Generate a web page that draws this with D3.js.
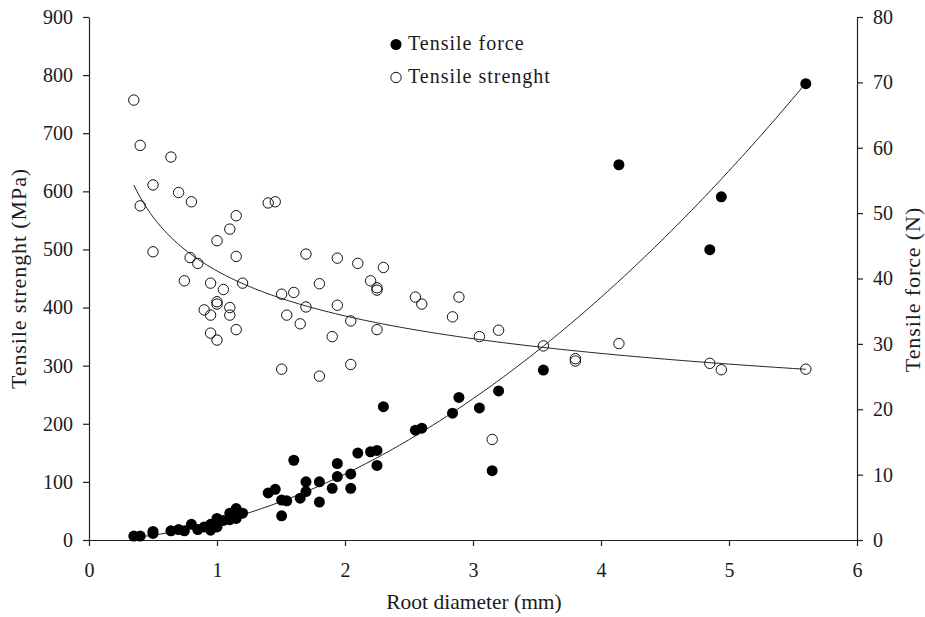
<!DOCTYPE html>
<html>
<head>
<meta charset="utf-8">
<script src="https://cdn.jsdelivr.net/npm/d3@7"></script>
<style>
  html, body { margin: 0; padding: 0; background: #fff; }
  svg { display: block; }
  text { font-family: "Liberation Serif", "DejaVu Serif", serif; fill: #1a1a1a; }
</style>
</head>
<body>
<svg id="chart" width="925" height="617"></svg>
<script>
// Root diameter (mm) and tensile strength (MPa), open markers
const strengthDiameter = [0.35,0.40,0.40,0.50,0.50,0.64,0.70,0.745,0.79,0.80,0.85,0.90,0.95,0.95,0.95,1.0,1.0,1.0,1.0,1.05,1.10,1.10,1.10,1.15,1.15,1.15,1.20,1.40,1.455,1.505,1.505,1.545,1.60,1.65,1.695,1.695,1.80,1.80,1.90,1.94,1.94,2.045,2.045,2.10,2.20,2.25,2.25,2.25,2.30,2.55,2.60,2.84,2.89,3.05,3.15,3.20,3.55,3.80,3.80,4.14,4.85,4.94,5.60];
const strengthValues   = [757,679,575,611,496,659,598,446,486,582,476,396,442,387,356,515,410,406,344,431,535,400,387,558,488,362,442,580,582,423,294,387,426,372,492,401,441,282,350,485,404,377,302,476,446,434,430,362,469,418,406,384,418,350,173,361,334,312,308,338,304,293,294];

// Root diameter (mm) and tensile force (N), filled markers
const forceDiameter = [0.35,0.40,0.50,0.50,0.64,0.70,0.745,0.80,0.85,0.90,0.95,0.95,1.0,1.0,1.0,1.05,1.10,1.10,1.15,1.15,1.15,1.20,1.40,1.455,1.505,1.505,1.545,1.60,1.65,1.695,1.695,1.80,1.80,1.90,1.94,1.94,2.045,2.045,2.10,2.20,2.25,2.25,2.30,2.55,2.60,2.84,2.89,3.05,3.15,3.20,3.55,4.14,4.85,4.94,5.60];
const forceValues   = [0.6,0.6,1.0,1.3,1.4,1.6,1.4,2.4,1.6,2.0,2.4,1.5,3.3,2.6,2.0,3.0,4.1,3.1,4.8,4.1,3.3,4.1,7.2,7.75,6.1,3.7,6.0,12.2,6.4,8.9,7.4,8.9,5.8,7.9,11.7,9.7,10.1,7.9,13.3,13.5,13.7,11.4,20.4,16.8,17.1,19.4,21.8,20.2,10.6,22.8,26.0,57.4,44.4,52.5,69.8];

// Power trend lines y = a * x^b
const strengthTrend = { a: 463, b: -0.264 };
const forceTrend    = { a: 2.74, b: 1.88 };

const xTicks = [0,1,2,3,4,5,6];
const leftTicks = [0,100,200,300,400,500,600,700,800,900];
const rightTicks = [0,10,20,30,40,50,60,70,80];

const margin = { top: 17, right: 68, bottom: 77, left: 89 };
const W = 925, H = 617;
const svg = d3.select("#chart");
const serif = "'Liberation Serif', 'DejaVu Serif', serif";

const x = d3.scaleLinear().domain([0, 6]).range([margin.left, W - margin.right]);
const yL = d3.scaleLinear().domain([0, 900]).range([H - margin.bottom, margin.top]);
const yR = d3.scaleLinear().domain([0, 80]).range([H - margin.bottom, margin.top]);

const fmt = d3.format("d");

// Axes
const gx = svg.append("g").attr("transform", `translate(0,${H - margin.bottom})`)
  .call(d3.axisBottom(x).tickValues(xTicks).tickFormat(fmt).tickSize(6).tickPadding(17).tickSizeOuter(0));
const gl = svg.append("g").attr("transform", `translate(${margin.left},0)`)
  .call(d3.axisLeft(yL).tickValues(leftTicks).tickFormat(fmt).tickSize(6).tickPadding(10).tickSizeOuter(0));
const gr = svg.append("g").attr("transform", `translate(${W - margin.right},0)`)
  .call(d3.axisRight(yR).tickValues(rightTicks).tickFormat(fmt).tickSize(6).tickPadding(10).tickSizeOuter(0));

[gx, gl, gr].forEach(g => {
  g.attr("font-family", serif).attr("font-size", 20);
  g.selectAll("path.domain").attr("stroke", "#222").attr("stroke-width", 1.2);
  g.selectAll(".tick line").attr("stroke", "#222").attr("stroke-width", 1.2);
  g.selectAll(".tick text").style("font-family", serif).style("font-size", "20px").attr("fill", "#1a1a1a");
});

// Axis titles
svg.append("text").attr("x", (margin.left + W - margin.right) / 2 + 1).attr("y", 609)
  .attr("text-anchor", "middle").style("font-size", "21.5px").text("Root diameter (mm)");
svg.append("text").attr("transform", `translate(26,${(margin.top + H - margin.bottom) / 2}) rotate(-90)`)
  .attr("text-anchor", "middle").style("font-size", "22px").style("letter-spacing", "0.9px")
  .text("Tensile strenght (MPa)");
svg.append("text").attr("transform", `translate(920,${(margin.top + H - margin.bottom) / 2 + 11}) rotate(-90)`)
  .attr("text-anchor", "middle").style("font-size", "22px").style("letter-spacing", "0.9px")
  .text("Tensile force (N)");

// Trend lines
function trendPoints(t, x0, x1) {
  return d3.range(0, 201).map(i => { const v = x0 + (x1 - x0) * i / 200; return [v, t.a * Math.pow(v, t.b)]; });
}
const lineL = d3.line().x(d => x(d[0])).y(d => yL(d[1]));
const lineR = d3.line().x(d => x(d[0])).y(d => yR(d[1]));
svg.append("path").datum(trendPoints(forceTrend, d3.min(forceDiameter), d3.max(forceDiameter)))
  .attr("d", lineR).attr("fill", "none").attr("stroke", "#222").attr("stroke-width", 1);
svg.append("path").datum(trendPoints(strengthTrend, d3.min(strengthDiameter), d3.max(strengthDiameter)))
  .attr("d", lineL).attr("fill", "none").attr("stroke", "#222").attr("stroke-width", 1);

// Filled markers: tensile force
svg.append("g").selectAll("circle").data(forceDiameter.map((d, i) => [d, forceValues[i]]))
  .join("circle").attr("cx", d => x(d[0])).attr("cy", d => yR(d[1])).attr("r", 5.5)
  .attr("fill", "#000");

// Open markers: tensile strength
svg.append("g").selectAll("circle").data(strengthDiameter.map((d, i) => [d, strengthValues[i]]))
  .join("circle").attr("cx", d => x(d[0])).attr("cy", d => yL(d[1])).attr("r", 5.2)
  .attr("fill", "none").attr("stroke", "#111").attr("stroke-width", 1);

// Legend
const lg = svg.append("g");
lg.append("circle").attr("cx", 396).attr("cy", 44.5).attr("r", 5.5).attr("fill", "#000");
lg.append("text").attr("x", 408).attr("y", 50).style("font-size", "20px").style("letter-spacing", "1px").text("Tensile force");
lg.append("circle").attr("cx", 396).attr("cy", 77.5).attr("r", 5.2).attr("fill", "none").attr("stroke", "#111");
lg.append("text").attr("x", 408).attr("y", 83).style("font-size", "20px").style("letter-spacing", "1px").text("Tensile strenght");
</script>
</body>
</html>
